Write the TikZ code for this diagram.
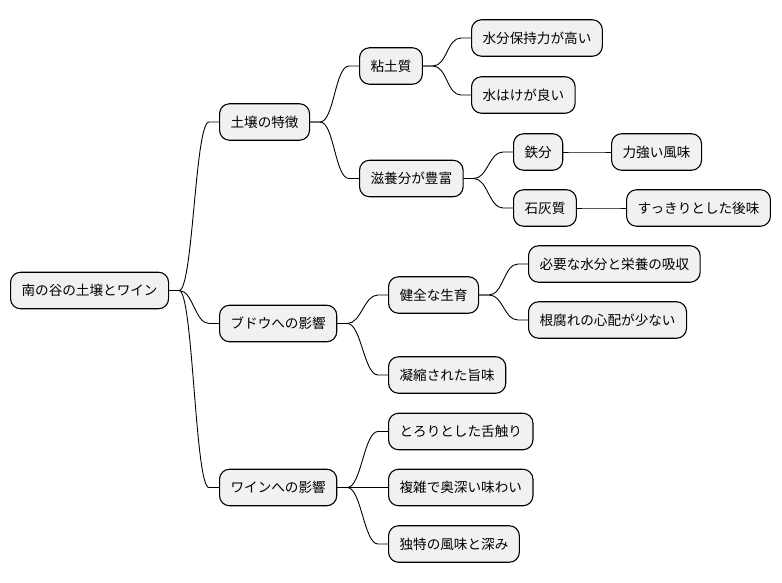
\documentclass[tikz,border=0pt]{standalone}
\usepackage{fontspec}
\newfontfamily\jpfont{Noto Sans CJK JP}
\definecolor{boxgray}{HTML}{F1F1F1}
\tikzset{
  topic/.style={draw=black, fill=boxgray, line width=1.1pt, rounded corners=10pt,
    minimum height=36.5pt, inner xsep=11pt, inner ysep=0pt, anchor=west,
    font=\jpfont\fontsize{13.6}{16}\selectfont},
  branch/.style={draw=black, line width=0.9pt}
}
% 親から子へのS字の枝
\newcommand{\twig}[2]{%
  \draw[branch] (#1.east) -- ([xshift=10pt]#1.east)
    .. controls ([xshift=24pt]#1.east) and ([xshift=-24pt]#2.west) ..
    ([xshift=-10pt]#2.west) -- (#2.west);}
\begin{document}
\begin{tikzpicture}[x=1pt, y=-1pt]
  \useasboundingbox (0,0) rectangle (782,583);

  % 1. 根
  \node[topic] (root) at (10,290.5) {南の谷の土壌とワイン};

  % 2. 第一階層
  \node[topic] (soil)  at (219,122) {土壌の特徴};
  \node[topic] (grape) at (219,323.5) {ブドウへの影響};
  \node[topic] (wine)  at (219,487.5) {ワインへの影響};

  % 3. 土壌の特徴
  \node[topic] (clay)     at (359,66)  {粘土質};
  \node[topic] (retain)   at (471,38)  {水分保持力が高い};
  \node[topic] (drain)    at (471,95)  {水はけが良い};
  \node[topic] (rich)     at (359,178.5) {滋養分が豊富};
  \node[topic] (iron)     at (513,152) {鉄分};
  \node[topic] (strong)   at (611,152) {力強い風味};
  \node[topic] (lime)     at (513,208) {石灰質};
  \node[topic] (clean)    at (626,208) {すっきりとした後味};

  % 4. ブドウへの影響
  \node[topic] (growth)   at (388,295) {健全な生育};
  \node[topic] (absorb)   at (528,264) {必要な水分と栄養の吸収};
  \node[topic] (rootrot)  at (528,320) {根腐れの心配が少ない};
  \node[topic] (umami)    at (388,375) {凝縮された旨味};

  % 5. ワインへの影響
  \node[topic] (smooth)   at (388,431.5) {とろりとした舌触り};
  \node[topic] (complex)  at (388,487.5) {複雑で奥深い味わい};
  \node[topic] (unique)   at (388,544) {独特の風味と深み};

  % 6. 枝
  \twig{root}{soil} \twig{root}{grape} \twig{root}{wine}
  \twig{soil}{clay} \twig{soil}{rich}
  \twig{clay}{retain} \twig{clay}{drain}
  \twig{rich}{iron} \twig{rich}{lime}
  \twig{iron}{strong} \twig{lime}{clean}
  \twig{grape}{growth} \twig{grape}{umami}
  \twig{growth}{absorb} \twig{growth}{rootrot}
  \twig{wine}{smooth} \twig{wine}{complex} \twig{wine}{unique}
\end{tikzpicture}
\end{document}
